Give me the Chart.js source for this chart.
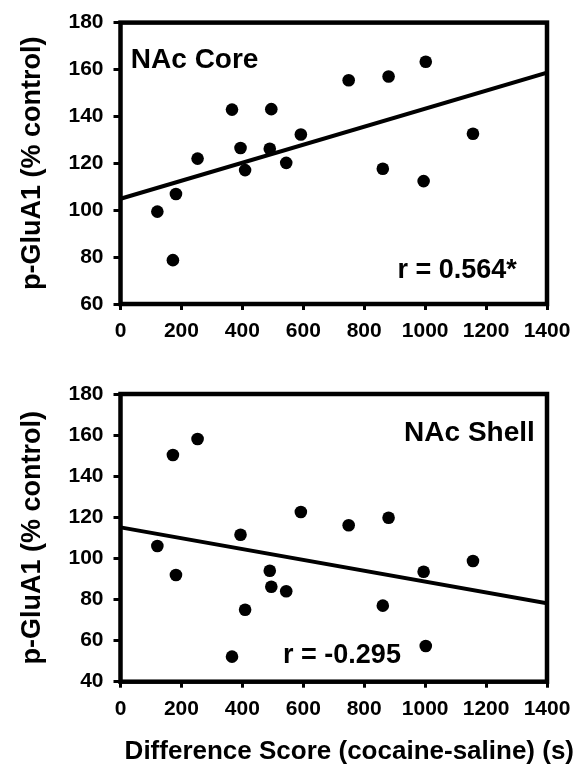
<!DOCTYPE html>
<html lang="en">
<head>
    <meta charset="UTF-8">
    <title>p-GluA1 vs Difference Score</title>
    <script src="https://cdn.jsdelivr.net/npm/chart.js"></script>
    <style>
        body { margin: 0; background: white; }
        .panel { position: absolute; left: 0; }
        #topPanel { top: 0; }
        #bottomPanel { top: 360px; }
    </style>
</head>
<body>
    <div class="panel" id="topPanel"><canvas id="coreChart" width="576" height="345"></canvas></div>
    <div class="panel" id="bottomPanel"><canvas id="shellChart" width="576" height="419"></canvas></div>

    <script>
        // difference score (s), same animals in both panels
        const diffScore = [121, 172, 182, 253, 366, 394, 409, 490, 495, 544, 592, 749, 861, 880, 995, 1002, 1157];
        const coreValues = [99.4, 78.7, 106.9, 122.0, 142.9, 126.5, 117.1, 126.2, 143.1, 120.2, 132.3, 155.4, 117.7, 157.0, 112.4, 163.3, 132.6];
        const shellValues = [106.0, 150.3, 91.9, 158.1, 52.2, 111.5, 75.0, 94.0, 86.2, 84.0, 122.6, 116.1, 77.0, 119.8, 93.5, 57.4, 98.7];

        // regression line end points
        const fitX = [0, 1400];
        const coreFit = [104.9, 158.7];
        const shellFit = [115.1, 78.1];

        const FONT = '"Liberation Sans", Arial, sans-serif';

        function toPoints(xs, ys) {
            return xs.map((x, i) => ({ x: x, y: ys[i] }));
        }

        // thick box around the plot + text labels placed in data units
        const frameAndLabels = {
            id: 'frameAndLabels',
            afterDraw(chart, args, opts) {
                const ctx = chart.ctx;
                const a = chart.chartArea;
                const xs = chart.scales.x, ys = chart.scales.y;
                ctx.save();
                ctx.strokeStyle = '#000';
                ctx.lineWidth = 4.5;
                ctx.strokeRect(a.left, a.top, a.right - a.left, a.bottom - a.top);
                ctx.fillStyle = '#000';
                ctx.textBaseline = 'alphabetic';
                (opts.labels || []).forEach(l => {
                    ctx.font = 'bold ' + l.size + 'px ' + FONT;
                    ctx.textAlign = l.align;
                    ctx.fillText(l.text, xs.getPixelForValue(l.x), ys.getPixelForValue(l.y));
                });
                if (opts.xTitle) {
                    ctx.font = 'bold 26px ' + FONT;
                    ctx.textAlign = 'right';
                    ctx.textBaseline = 'middle';
                    ctx.fillText(opts.xTitle, chart.width - 2, chart.height - 27);
                }
                ctx.restore();
            }
        };

        function makeChart(id, values, fit, yMin, labels, padTop, xHeight, xTitle) {
            const ctx = document.getElementById(id).getContext('2d');
            return new Chart(ctx, {
                type: 'scatter',
                data: {
                    datasets: [{
                        data: toPoints(diffScore, values),
                        backgroundColor: '#000',
                        borderWidth: 0,
                        pointRadius: 6.3
                    }, {
                        data: toPoints(fitX, fit),
                        showLine: true,
                        borderColor: '#000',
                        borderWidth: 4,
                        pointRadius: 0
                    }]
                },
                options: {
                    responsive: false,
                    animation: false,
                    layout: { padding: { top: padTop, right: 29, left: 0, bottom: 0 } },
                    plugins: {
                        legend: { display: false },
                        tooltip: { enabled: false },
                        frameAndLabels: { labels: labels, xTitle: xTitle }
                    },
                    scales: {
                        x: {
                            min: 0, max: 1400,
                            afterFit(scale) {
                                scale.height = xHeight;
                                scale.paddingLeft = 0;
                                scale.paddingRight = 0;
                            },
                            border: { display: false },
                            grid: { drawOnChartArea: false, tickLength: 6, tickWidth: 3, tickColor: '#000' },
                            ticks: { stepSize: 200, padding: 9, color: '#000', maxRotation: 0,
                                     callback: v => String(v),
                                     font: { family: FONT, size: 21, weight: 'bold' } }
                        },
                        y: {
                            min: yMin, max: 180,
                            afterFit(scale) { scale.width = 120.5; },
                            border: { display: false },
                            grid: { drawOnChartArea: false, tickLength: 7, tickWidth: 3, tickColor: '#000' },
                            ticks: { stepSize: 20, padding: 10, color: '#000',
                                     callback: v => String(v),
                                     font: { family: FONT, size: 21, weight: 'bold' } },
                            title: { display: true, text: 'p-GluA1 (% control)', color: '#000',
                                     padding: { top: 16, bottom: 0 },
                                     font: { family: FONT, size: 27, weight: 'bold' } }
                        }
                    }
                },
                plugins: [frameAndLabels]
            });
        }

        makeChart('coreChart', coreValues, coreFit, 60, [
            { text: 'NAc Core', x: 34, y: 160.7, align: 'left', size: 28 },
            { text: 'r = 0.564*', x: 1301, y: 70.9, align: 'right', size: 27 }
        ], 17.5, 41, null);

        makeChart('shellChart', shellValues, shellFit, 40, [
            { text: 'NAc Shell', x: 1360, y: 157.3, align: 'right', size: 28 },
            { text: 'r = -0.295', x: 727, y: 49.0, align: 'center', size: 27 }
        ], 34, 97.3, 'Difference Score (cocaine-saline) (s)');
    </script>
</body>
</html>
